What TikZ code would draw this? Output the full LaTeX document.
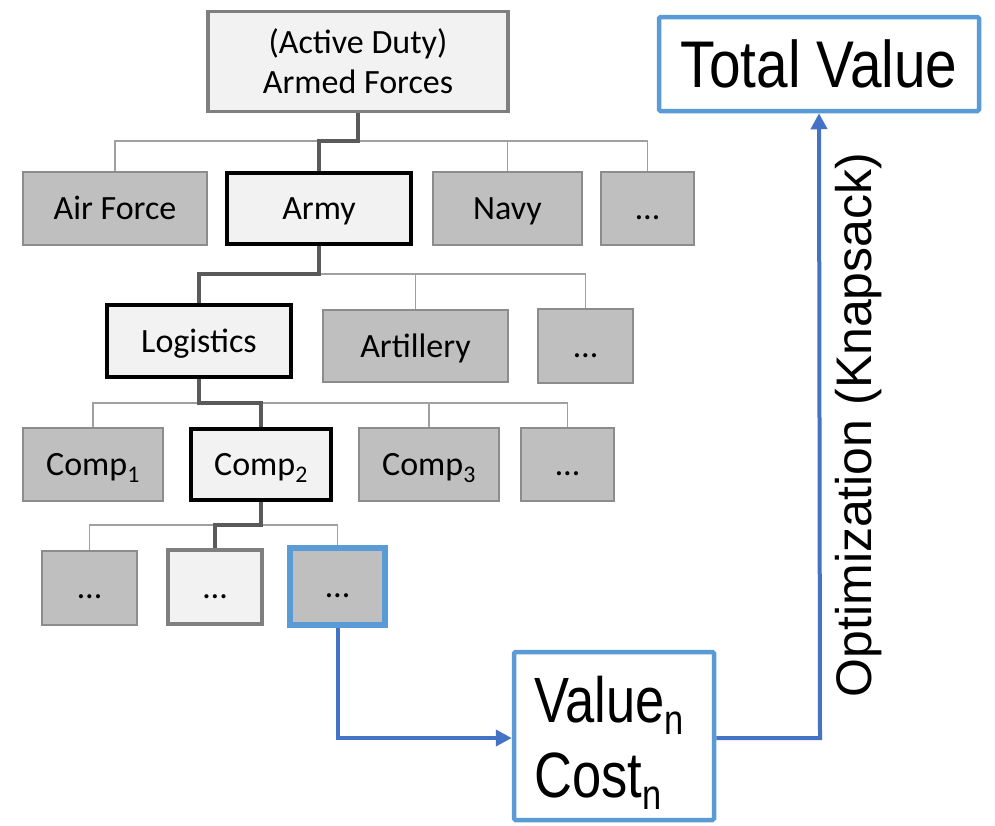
\documentclass[tikz,border=0pt]{standalone}
\usepackage{fontspec}
\setmainfont{Carlito}
\newfontfamily\condfont[FakeStretch=0.82]{Liberation Sans}
\newfontfamily\widecondfont[FakeStretch=0.86]{Liberation Sans}
\newfontfamily\plainsans{Liberation Sans}
\usetikzlibrary{arrows.meta}
\definecolor{boxgray}{HTML}{BFBFBF}
\definecolor{boxlight}{HTML}{F2F2F2}
\definecolor{edgegray}{HTML}{8C8C8C}
\definecolor{darkgray}{HTML}{7F7F7F}
\definecolor{linkdark}{HTML}{5A5A5A}
\definecolor{linklight}{HTML}{A0A0A0}
\definecolor{boxblue}{HTML}{5B9BD5}
\definecolor{arrowblue}{HTML}{4472C4}
% lowered index for the result labels
\newcommand{\resultidx}[1]{\raisebox{-12pt}{\fontsize{42}{42}\selectfont #1}}
\tikzset{
  treefont/.style={font=\fontsize{34}{40}\selectfont, align=center, inner sep=0pt},
  treetext/.style={treefont, text height=28pt, text depth=6pt},
  graybox/.style={treetext, draw=edgegray, fill=boxgray, line width=2pt},
  pathbox/.style={treetext, draw=black, fill=boxlight, line width=4pt},
  topbox/.style={treefont, draw=darkgray, fill=boxlight, line width=3.5pt},
  midbox/.style={treetext, draw=darkgray, fill=boxlight, line width=4.5pt},
  pickbox/.style={treetext, draw=boxblue, fill=boxgray, line width=6pt},
  resultbox/.style={draw=boxblue, fill=white, line width=4.5pt, rounded corners=1.5pt, inner sep=0pt},
  resulttext/.style={font=\condfont\fontsize{64}{75}\selectfont, inner sep=0pt, anchor=base west},
  sidelink/.style={draw=linklight, line width=1.3pt},
  mainlink/.style={draw=linkdark, line width=3.5pt},
  flow/.style={draw=arrowblue, line width=4pt, -{Triangle[length=16pt,width=16pt]}}
}
\begin{document}
\begin{tikzpicture}[x=1pt,y=-1pt]
\useasboundingbox (0,0) rectangle (995,825);

% levels of the tree: horizontal buses
\coordinate (bus1) at (0,141);
\coordinate (bus2) at (0,274);
\coordinate (bus3) at (0,403);
\coordinate (bus4) at (0,525);

% root
\node[topbox, minimum width=300, minimum height=100] (root) at (358,61.5) {(Active Duty)\\Armed Forces};

% branches
\node[graybox, minimum width=184, minimum height=73] (airforce) at (115,208.5) {Air Force};
\node[pathbox, minimum width=184, minimum height=71] (army) at (319,208) {Army};
\node[graybox, minimum width=149, minimum height=73] (navy) at (507.5,208.5) {Navy};
\node[graybox, minimum width=93, minimum height=73] (moreb) at (647.5,208.5) {…};

% units
\node[pathbox, minimum width=184, minimum height=72] (logistics) at (199,341) {Logistics};
\node[graybox, minimum width=185, minimum height=72] (artillery) at (415.5,346) {Artillery};
\node[graybox, minimum width=95, minimum height=74] (moreu) at (585.5,346) {…};

% components
\node[graybox, minimum width=140, minimum height=73] (comp1) at (93,464.5) {Comp\textsubscript{1}};
\node[pathbox, minimum width=140, minimum height=71] (comp2) at (261,464.5) {Comp\textsubscript{2}};
\node[graybox, minimum width=140, minimum height=73] (comp3) at (429,464.5) {Comp\textsubscript{3}};
\node[graybox, minimum width=93, minimum height=73] (morec) at (567.5,464.5) {…};

% leaves
\node[graybox, minimum width=95, minimum height=74] (leafa) at (89.5,587.5) {…};
\node[midbox, minimum width=94, minimum height=74] (leafb) at (215,587) {…};
\node[pickbox, minimum width=95, minimum height=77] (leafc) at (337.5,586.5) {…};

% results
\node[resultbox, minimum width=200, minimum height=168] (val) at (614,736) {};
\node[resulttext] (valline) at (534,722) {Value\resultidx{n}};
\node[resulttext] (costline) at (534,797) {Cost\resultidx{n}};
\node[resultbox, minimum width=320, minimum height=94,
      font=\widecondfont\fontsize{66}{72}\selectfont, text height=48pt, text depth=2pt] (total) at (819,64) {Total Value};

% thin links to siblings
\path[sidelink] (airforce.north) -- (airforce.north |- bus1) -- (moreb.north |- bus1) -- (moreb.north);
\path[sidelink] (navy.north) -- (navy.north |- bus1);
\path[sidelink] (logistics.north |- bus2) -- (moreu.north |- bus2) -- (moreu.north);
\path[sidelink] (artillery.north) -- (artillery.north |- bus2);
\path[sidelink] (comp1.north) -- (comp1.north |- bus3) -- (morec.north |- bus3) -- (morec.north);
\path[sidelink] (comp3.north) -- (comp3.north |- bus3);
\path[sidelink] (leafa.north) -- (leafa.north |- bus4) -- (leafc.north |- bus4) -- (leafc.north);

% thick links along the selected path
\path[mainlink] (root.south) -- (root.south |- bus1) -| (army.north);
\path[mainlink] (army.south) -- (army.south |- bus2) -| (logistics.north);
\path[mainlink] (logistics.south) -- (logistics.south |- bus3) -| (comp2.north);
\path[mainlink] (comp2.south) -- (comp2.south |- bus4) -| (leafb.north);

% evaluation and optimization flow
\coordinate (turn) at (820,738);
\draw[flow] (leafc.south) |- (val.west |- turn);
\draw[flow] (val.east |- turn) -- (turn) -- (total.south);

\node[font=\plainsans\fontsize{50}{54}\selectfont, rotate=90, inner sep=0pt] (opt) at (859,425) {Optimization (Knapsack)};
\end{tikzpicture}
\end{document}
